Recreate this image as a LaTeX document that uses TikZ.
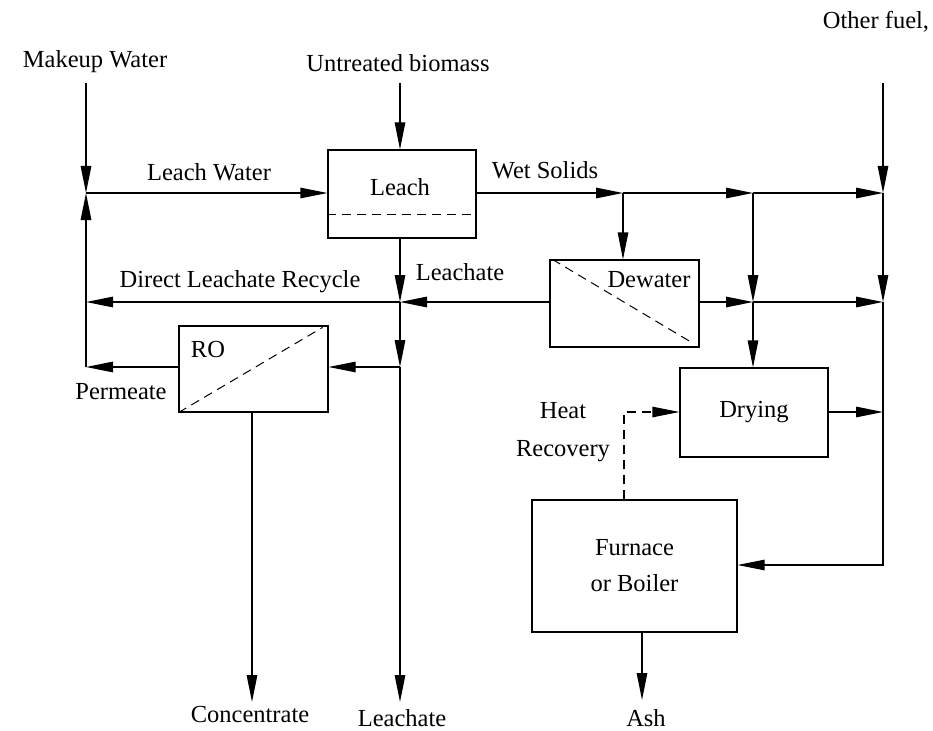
\documentclass[tikz,border=0pt]{standalone}
\usepackage{fontspec}
\setmainfont{Liberation Serif}
\usetikzlibrary{arrows.meta, positioning, calc}

\begin{document}
\begin{tikzpicture}[
  x=1pt, y=-1pt,
  font=\fontsize{24.5}{29}\selectfont,
  unitbox/.style={draw, line width=1.2pt, inner sep=0pt, align=center},
  lbl/.style={inner sep=0pt, align=center},
  flow/.style={line width=1.2pt, -{Triangle[length=27pt,width=10.5pt]}},
  heat/.style={flow, dash pattern=on 9pt off 6pt},
  memb/.style={line width=1pt, dash pattern=on 9pt off 6pt},
]
\useasboundingbox (0,0) rectangle (933,730);

% units
\node[unitbox, minimum width=148pt, minimum height=88pt] (leach) at (402,194) {};
\node[unitbox, minimum width=149pt, minimum height=86pt] (ro) at (253.5,369) {};
\node[unitbox, minimum width=149pt, minimum height=87pt] (dewater) at (624.5,303.5) {};
\node[unitbox, minimum width=148pt, minimum height=89pt] (drying) at (754,412.5) {Drying};
\node[unitbox, minimum width=205pt, minimum height=132pt] (furnace) at (634.5,566) {Furnace\\[7pt]or Boiler};

\node[lbl] (leachtxt) at (400,187) {Leach};
\node[lbl] (rotxt) at (208,350) {RO};
\node[lbl] (dewatertxt) at (649,280) {Dewater};

% membranes
\draw[memb] ([yshift=24pt]leach.south west) -- ([yshift=24pt]leach.south east);
\draw[memb] (ro.south west) -- ([xshift=-6pt,yshift=-2pt]ro.north east);
\draw[memb] ([xshift=3pt]dewater.north west) -- ([xshift=-6pt,yshift=4pt]dewater.south east);

% junctions and ends
\coordinate (mwin) at (86,83);
\coordinate (ubin) at (400,83);
\coordinate (ofin) at (883,83);
\coordinate (ja) at (86,193);
\coordinate (jb) at (86,302);
\coordinate (jc) at (86,367);
\coordinate (w1) at (623,193);
\coordinate (w2) at (753,193);
\coordinate (w3) at (883,193);
\coordinate (d2) at (753,302);
\coordinate (d3) at (883,302);
\coordinate (r3) at (883,412);
\coordinate (f3) at (883,565);
\coordinate (lj) at (400,302);
\coordinate (lk) at (400,367);
\coordinate (hr) at (624,412);
\coordinate (leachout) at (400,702);
\coordinate (concout) at (252,702);
\coordinate (ashout) at (642,700);

% text
\node[lbl] (mwtxt) at (95,62) {Makeup Water};
\node[lbl] (ubtxt) at (398,63) {Untreated biomass};
\node[lbl] (oftxt) at (876,22) {Other fuel,};
\node[lbl] (lwtxt) at (209,172) {Leach Water};
\node[lbl] (wstxt) at (545,170) {Wet Solids};
\node[lbl] (dlrtxt) at (240,282) {Direct Leachate Recycle};
\node[lbl] (lchtxt) at (460,272) {Leachate};
\node[lbl] (permtxt) at (121,392) {Permeate};
\node[lbl] (heattxt) at (563,432) {Heat\\[9pt]Recovery};
\node[lbl] (conctxt) at (250,714) {Concentrate};
\node[lbl] (lchouttxt) at (402,718) {Leachate};
\node[lbl] (ashtxt) at (646,718) {Ash};

% streams
\draw[flow] (mwin) -- (ja);
\draw[flow] (ubin) -- (leach.north -| ubin);
\draw[flow] (ja) -- (leach.west |- ja);
\draw[flow] (leach.east |- w1) -- (w1);
\draw[flow] (w1) -- (w2);
\draw[flow] (w2) -- (w3);
\draw[flow] (ofin) -- (w3);
\draw[flow] (w1) -- (dewater.north -| w1);
\draw[flow] (w2) -- (d2);
\draw[flow] (d2) -- (drying.north -| d2);
\draw[flow] (w3) -- (d3);
\draw[flow] (dewater.east |- d2) -- (d2);
\draw[flow] (d2) -- (d3);
\draw[flow] (drying.east |- r3) -- (r3);
\draw[flow] (d3) -- (f3) -- (furnace.east |- f3);
\draw[heat] (furnace.north -| hr) -- (hr) -- (drying.west |- hr);
\draw[flow] (dewater.west |- lj) -- (lj);
\draw[flow] (lj) -- (jb);
\draw[flow] (leach.south -| lj) -- (lj);
\draw[flow] (lj) -- (lk);
\draw[flow] (lk) -- (ro.east |- lk);
\draw[flow] (lk) -- (leachout);
\draw[flow] (ro.west |- jc) -- (jc);
\draw[flow] (jc) -- (ja);
\draw[flow] (ro.south -| concout) -- (concout);
\draw[flow] (furnace.south -| ashout) -- (ashout);
\end{tikzpicture}
\end{document}
